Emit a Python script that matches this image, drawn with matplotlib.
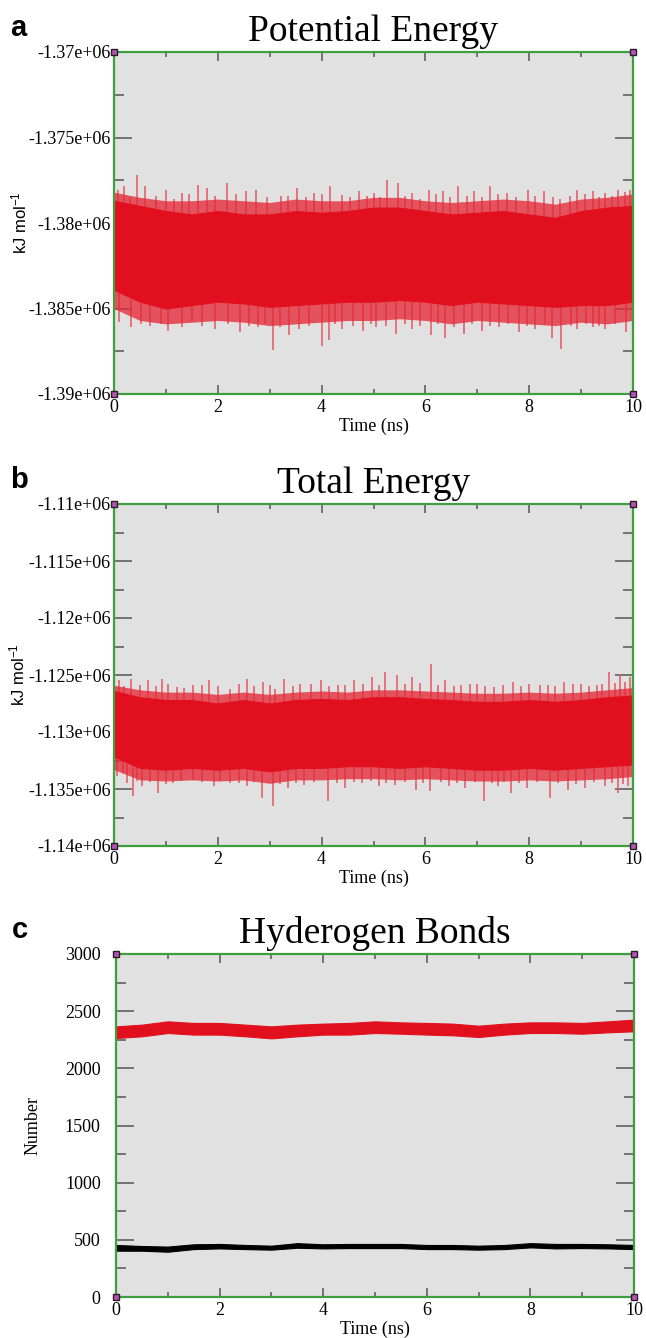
import matplotlib
matplotlib.use("Agg")
import matplotlib.pyplot as plt
import numpy as np
from matplotlib.ticker import MultipleLocator, FixedLocator, FixedFormatter

# ---------------- data ----------------
t_env = [0.0, 0.5, 1.0, 1.5, 2.0, 2.5, 3.0, 3.5, 4.0, 4.5, 5.0,
         5.5, 6.0, 6.5, 7.0, 7.5, 8.0, 8.5, 9.0, 9.5, 10.0]

# (a) Potential energy: dense core band, fringe of thin spikes, tallest spikes
pe_core_top = [-1378700, -1379000, -1379300, -1379500, -1379300, -1379500, -1379500,
               -1379300, -1379400, -1379300, -1379100, -1379100, -1379300, -1379500,
               -1379400, -1379300, -1379500, -1379700, -1379300, -1379100, -1379000]
pe_core_bot = [-1383900, -1384600, -1385000, -1384800, -1384600, -1384700, -1384900,
               -1384800, -1384700, -1384600, -1384600, -1384500, -1384600, -1384800,
               -1384600, -1384700, -1384800, -1384900, -1384800, -1384800, -1384600]
pe_fringe_top = [-1378200, -1378500, -1378700, -1378700, -1378600, -1378700, -1378800,
                 -1378600, -1378700, -1378700, -1378500, -1378500, -1378700, -1378800,
                 -1378700, -1378600, -1378700, -1378900, -1378600, -1378500, -1378300]
pe_fringe_bot = [-1385000, -1385700, -1385900, -1385800, -1385700, -1385800, -1386000,
                 -1385900, -1385800, -1385700, -1385700, -1385600, -1385700, -1385900,
                 -1385700, -1385800, -1385900, -1386000, -1385800, -1385900, -1385700]
pe_up_t = [0.07, 0.20, 0.30, 0.44, 0.60, 0.80, 1.00, 1.15, 1.31, 1.45, 1.62, 1.79,
           1.95, 2.17, 2.35, 2.54, 2.74, 2.95, 3.21, 3.35, 3.53, 3.70, 3.85, 4.00,
           4.16, 4.40, 4.55, 4.72, 4.88, 5.00, 5.12, 5.26, 5.47, 5.60, 5.75, 5.90,
           6.06, 6.20, 6.34, 6.48, 6.62, 6.80, 6.94, 7.10, 7.25, 7.40, 7.57, 7.75,
           7.97, 8.12, 8.28, 8.45, 8.60, 8.78, 8.92, 9.08, 9.23, 9.35, 9.47, 9.60,
           9.71, 9.85, 9.94]
pe_up_v = [-1378050, -1377850, -1378500, -1377200, -1377850, -1378400, -1378050,
           -1378600, -1378250, -1378300, -1377750, -1377950, -1378400, -1377650,
           -1378300, -1378150, -1378050, -1378500, -1378450, -1378400, -1377950,
           -1378500, -1378250, -1378300, -1377850, -1378350, -1378500, -1378150,
           -1378400, -1378250, -1378500, -1377500, -1377650, -1378400, -1378250,
           -1378600, -1378050, -1378300, -1378150, -1378500, -1377850, -1378400,
           -1378150, -1378500, -1377850, -1378300, -1378250, -1378500, -1378050,
           -1378400, -1378150, -1378500, -1378600, -1378400, -1378050, -1378300,
           -1378150, -1378500, -1378250, -1378400, -1378050, -1378200, -1378050]
pe_dn_t = [0.10, 0.32, 0.52, 0.70, 0.90, 1.04, 1.31, 1.50, 1.70, 1.95, 2.20, 2.42,
           2.60, 2.78, 2.90, 3.07, 3.20, 3.37, 3.57, 3.75, 4.00, 4.14, 4.25, 4.40,
           4.60, 4.80, 4.95, 5.05, 5.25, 5.43, 5.60, 5.75, 5.90, 6.10, 6.25, 6.38,
           6.55, 6.74, 6.90, 7.09, 7.25, 7.41, 7.60, 7.81, 7.95, 8.12, 8.30, 8.44,
           8.62, 8.80, 8.92, 9.10, 9.23, 9.35, 9.47, 9.65, 9.87]
pe_dn_v = [-1385800, -1386100, -1385900, -1386000, -1385900, -1386300, -1386100,
           -1385800, -1386000, -1386200, -1385900, -1386400, -1386000, -1386100,
           -1385900, -1387400, -1386100, -1386550, -1386200, -1386000, -1387200,
           -1386850, -1385900, -1386200, -1386000, -1386300, -1385900, -1386100,
           -1386000, -1386500, -1385900, -1386200, -1386000, -1386550, -1385900,
           -1386750, -1386100, -1386500, -1385900, -1386300, -1386000, -1386100,
           -1385900, -1386400, -1386000, -1386200, -1385900, -1386750, -1387350,
           -1386000, -1386200, -1385900, -1386100, -1386000, -1386200, -1385900,
           -1386400]

# (b) Total energy
te_core_top = [-1126400, -1126950, -1127200, -1127200, -1127500, -1127200, -1127500,
               -1127200, -1127100, -1127200, -1126950, -1126950, -1127100, -1127200,
               -1127350, -1127350, -1127200, -1127350, -1127200, -1126950, -1126800]
te_core_bot = [-1132150, -1133150, -1133300, -1133150, -1133300, -1133150, -1133450,
               -1133150, -1133150, -1133000, -1133000, -1133150, -1133000, -1133150,
               -1133300, -1133300, -1133150, -1133300, -1133150, -1133000, -1132850]
te_fringe_top = [-1125900, -1126300, -1126500, -1126500, -1126700, -1126500, -1126700,
                 -1126500, -1126400, -1126500, -1126300, -1126300, -1126400, -1126500,
                 -1126600, -1126600, -1126500, -1126600, -1126500, -1126300, -1126100]
te_fringe_bot = [-1133300, -1134200, -1134300, -1134200, -1134300, -1134200, -1134500,
                 -1134200, -1134200, -1134100, -1134100, -1134200, -1134100, -1134200,
                 -1134300, -1134300, -1134200, -1134300, -1134200, -1134100, -1133900]
te_up_t = [0.10, 0.20, 0.33, 0.50, 0.65, 0.80, 0.93, 1.05, 1.21, 1.35, 1.53, 1.70,
           1.84, 2.00, 2.24, 2.40, 2.56, 2.70, 2.88, 3.00, 3.11, 3.27, 3.45, 3.59,
           3.80, 3.99, 4.15, 4.31, 4.45, 4.62, 4.80, 4.98, 5.10, 5.22, 5.46, 5.60,
           5.74, 5.90, 6.11, 6.25, 6.37, 6.55, 6.69, 6.85, 7.00, 7.15, 7.32, 7.50,
           7.68, 7.85, 8.00, 8.20, 8.36, 8.50, 8.67, 8.85, 8.99, 9.15, 9.31, 9.40,
           9.53, 9.65, 9.75, 9.85, 9.94]
te_up_v = [-1125480, -1126000, -1125330, -1125900, -1125480, -1126000, -1125330,
           -1125800, -1126060, -1126100, -1125910, -1125900, -1125480, -1126000,
           -1126200, -1125800, -1125330, -1126000, -1125620, -1125900, -1126200,
           -1125330, -1126000, -1125770, -1125800, -1125480, -1126000, -1125910,
           -1125900, -1125480, -1125800, -1125190, -1125900, -1124750, -1125040,
           -1125800, -1125190, -1125700, -1124030, -1125900, -1125480, -1126000,
           -1125910, -1125800, -1125770, -1126000, -1126060, -1125900, -1125620,
           -1126000, -1125770, -1125900, -1125910, -1126000, -1125620, -1125800,
           -1125770, -1126000, -1125910, -1125800, -1124750, -1125700, -1124900,
           -1125600, -1125190]
te_dn_t = [0.05, 0.17, 0.25, 0.37, 0.45, 0.53, 0.70, 0.85, 1.00, 1.13, 1.30, 1.53,
           1.70, 1.92, 2.05, 2.24, 2.40, 2.56, 2.70, 2.85, 3.07, 3.20, 3.35, 3.50,
           3.67, 3.85, 4.13, 4.30, 4.46, 4.62, 4.78, 4.95, 5.10, 5.25, 5.42, 5.60,
           5.81, 5.95, 6.09, 6.30, 6.45, 6.60, 6.77, 6.95, 7.12, 7.28, 7.40, 7.52,
           7.64, 7.80, 7.96, 8.15, 8.40, 8.55, 8.75, 8.90, 9.07, 9.25, 9.47, 9.60,
           9.71, 9.80, 9.90]
te_dn_v = [-1133900, -1133610, -1134500, -1135640, -1134300, -1134770, -1134400,
           -1135350, -1134600, -1134480, -1134300, -1134190, -1134400, -1134770,
           -1134300, -1134480, -1134500, -1134770, -1134400, -1135790, -1136510,
           -1134600, -1134920, -1134500, -1134630, -1134400, -1136080, -1134500,
           -1134920, -1134400, -1134480, -1134300, -1134770, -1134500, -1134630,
           -1134400, -1135060, -1134500, -1135210, -1134400, -1134770, -1134500,
           -1134920, -1134400, -1136080, -1134500, -1134770, -1134400, -1135350,
           -1134500, -1134920, -1134400, -1135790, -1134500, -1135060, -1134600,
           -1134920, -1134400, -1134770, -1134500, -1135350, -1134600, -1134770]

# (c) Hydrogen bonds: band limits of the two series
hb_red_top = [2367, 2382, 2411, 2397, 2397, 2382, 2367, 2382, 2391, 2397, 2411,
              2402, 2397, 2391, 2373, 2391, 2402, 2402, 2397, 2411, 2426]
hb_red_bot = [2265, 2280, 2309, 2295, 2295, 2280, 2262, 2280, 2295, 2295, 2309,
              2303, 2295, 2289, 2274, 2295, 2309, 2309, 2303, 2315, 2324]
hb_blk_top = [455, 446, 441, 461, 464, 455, 449, 471, 461, 464, 464,
              464, 455, 455, 449, 455, 471, 464, 464, 461, 455]
hb_blk_bot = [405, 405, 396, 419, 425, 419, 414, 431, 425, 428, 428,
              428, 419, 419, 414, 419, 434, 425, 428, 425, 419]

pe_ticks = [-1390000, -1385000, -1380000, -1375000, -1370000]
pe_ticklabels = ["-1.39e+06", "-1.385e+06", "-1.38e+06", "-1.375e+06", "-1.37e+06"]
te_ticks = [-1140000, -1135000, -1130000, -1125000, -1120000, -1115000, -1110000]
te_ticklabels = ["-1.14e+06", "-1.135e+06", "-1.13e+06", "-1.125e+06",
                 "-1.12e+06", "-1.115e+06", "-1.11e+06"]
hb_ticks = [0, 500, 1000, 1500, 2000, 2500, 3000]
hb_ticklabels = ["0", "500", "1000", "1500", "2000", "2500", "3000"]
x_ticks = [0, 2, 4, 6, 8, 10]
x_ticklabels = ["0", "2", "4", "6", "8", "10"]

titles = ["Potential Energy", "Total Energy", "Hyderogen Bonds"]
panel_letters = ["a", "b", "c"]

# ---------------- styling ----------------
W, H = 646, 1338
fig = plt.figure(figsize=(W / 100, H / 100), dpi=100)
SERIF = "Liberation Serif"
SANS = "Liberation Sans"
plt.rcParams["mathtext.default"] = "regular"

RED = "#e2101f"
FRINGE = "#e42a38"
SPIKE = "#ea5560"
BG = "#e1e1e1"
GREEN = "#3f9f3f"
TICKC = "#555555"


def add_axes(left, right, top, bottom):
    return fig.add_axes([left / W, 1 - bottom / H, (right - left) / W, (bottom - top) / H])


def style(ax, ylim, yticks, yticklabels, yminor, ypad, ylabel, ylabel_kw, title, letter, ax_h):
    ax.set_facecolor(BG)
    for s in ax.spines.values():
        s.set_color(GREEN)
        s.set_linewidth(1.6)
        s.set_zorder(6)
    ax.set_xlim(0, 10)
    ax.set_ylim(*ylim)
    ax.xaxis.set_major_locator(FixedLocator(x_ticks))
    ax.xaxis.set_major_formatter(FixedFormatter(x_ticklabels))
    ax.xaxis.set_minor_locator(MultipleLocator(1))
    ax.yaxis.set_major_locator(FixedLocator(yticks))
    ax.yaxis.set_major_formatter(FixedFormatter(yticklabels))
    ax.yaxis.set_minor_locator(MultipleLocator(yminor))
    ax.tick_params(which="both", direction="in", top=True, right=True,
                   color=TICKC, width=1.1, labelsize=13, zorder=7)
    ax.tick_params(axis="x", which="major", length=6.5, pad=3.5)
    ax.tick_params(axis="x", which="minor", length=3.6)
    ax.tick_params(axis="y", which="major", length=13, pad=ypad)
    ax.tick_params(axis="y", which="minor", length=7)
    for lab in ax.get_xticklabels() + ax.get_yticklabels():
        lab.set_fontfamily(SERIF)
    ax.set_xlabel("Time (ns)", fontsize=13, fontfamily=SERIF)
    ax.xaxis.set_label_coords(0.5, -32 / ax_h)
    ax.xaxis.label.set_va("center")
    ax.set_ylabel(ylabel, **ylabel_kw)
    ax.yaxis.label.set_va("center")
    ax.set_title(title, fontsize=27, fontfamily=SERIF, pad=8)
    ax.text(-104 / 519, 1 + 16 / ax_h, letter, transform=ax.transAxes,
            fontsize=21, fontweight="bold", fontfamily=SANS, ha="left", va="baseline")
    y0, y1 = ylim
    ax.plot([0, 10, 0, 10], [y0, y0, y1, y1], "s", ms=5, mfc="#b455b4",
            mec="#2a1a2a", mew=1.0, clip_on=False, zorder=8)


def energy_panel(ax, core_top, core_bot, fr_top, fr_bot, up_t, up_v, dn_t, dn_v):
    mid = [(a + b) / 2 for a, b in zip(core_top, core_bot)]
    up_base = np.interp(up_t, t_env, mid)
    dn_base = np.interp(dn_t, t_env, mid)
    ax.vlines(up_t, up_base, up_v, color=SPIKE, alpha=0.85, lw=1.3, zorder=2)
    ax.vlines(dn_t, dn_v, dn_base, color=SPIKE, alpha=0.85, lw=1.3, zorder=2)
    ax.fill_between(t_env, fr_bot, fr_top, color=FRINGE, alpha=0.78, lw=0, zorder=2.5)
    ax.fill_between(t_env, core_bot, core_top, color=RED, lw=0.8, zorder=3)


# (a)
axa = add_axes(114, 633, 52, 394)
energy_panel(axa, pe_core_top, pe_core_bot, pe_fringe_top, pe_fringe_bot,
             pe_up_t, pe_up_v, pe_dn_t, pe_dn_v)
style(axa, (-1390000, -1370000), pe_ticks, pe_ticklabels, 2500, 2.5,
      "kJ mol$^{-1}$", dict(fontsize=12, fontfamily=SANS),
      titles[0], panel_letters[0], 342)
axa.yaxis.set_label_coords(-95 / 519, 0.5)

# (b)
axb = add_axes(114, 633, 504, 846)
energy_panel(axb, te_core_top, te_core_bot, te_fringe_top, te_fringe_bot,
             te_up_t, te_up_v, te_dn_t, te_dn_v)
style(axb, (-1140000, -1110000), te_ticks, te_ticklabels, 2500, 2.5,
      "kJ mol$^{-1}$", dict(fontsize=12, fontfamily=SANS),
      titles[1], panel_letters[1], 342)
axb.yaxis.set_label_coords(-97 / 519, 0.5)

# (c)
axc = add_axes(116, 634, 954, 1297)
axc.fill_between(t_env, hb_red_bot, hb_red_top, color=RED, lw=0.8, zorder=3)
axc.fill_between(t_env, hb_blk_bot, hb_blk_top, color="black", lw=0.8, zorder=3)
style(axc, (0, 3000), hb_ticks, hb_ticklabels, 250, 11,
      "Number", dict(fontsize=13, fontfamily=SERIF),
      titles[2], panel_letters[2], 343)
axc.yaxis.set_label_coords(-83 / 518, 0.5)

fig.savefig("out.png", dpi=100)
